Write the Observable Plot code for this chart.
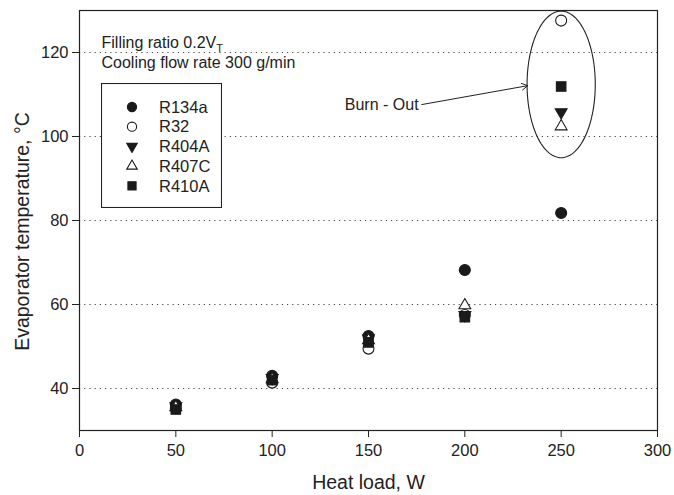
<!DOCTYPE html>
<html>
<head>
<meta charset="utf-8">
<script src="https://cdn.jsdelivr.net/npm/d3@7"></script>
<script src="https://cdn.jsdelivr.net/npm/@observablehq/plot@0.6"></script>
<style>
  html, body { margin: 0; padding: 0; background: #fff; }
  #wrap { position: relative; width: 674px; height: 495px; font-family: "Liberation Sans", Arial, sans-serif; color: #222; }
  #legend { position: absolute; left: 101px; top: 83px; }
</style>
</head>
<body>
<div id="wrap"></div>
<script>
// ---- data ----
const heatLoad = [50, 100, 150, 200, 250];
const seriesNames = ["R134a", "R32", "R404A", "R407C", "R410A"];
const R134a = [36.2, 43.0, 52.5, 68.2, 81.8];
const R32   = [35.3, 41.4, 49.5, 57.5, 127.6];
const R404A = [35.8, 42.5, 52.0, 57.5, 105.8];
const R407C = [35.5, 42.2, 51.5, 59.8, 102.4];
const R410A = [35.0, 42.0, 51.0, 57.0, 111.9];
const xTicks = [0, 50, 100, 150, 200, 250, 300];
const yTicks = [40, 60, 80, 100, 120];
const burnOutCenter = [250, 112.4];   // ellipse centre (W, °C)
const burnOutRadius = [17.7, 17.45];  // ellipse half-axes (W, °C)
const arrowFrom = [177.6, 107.6];
const arrowTo = [232.6, 112.1];
const burnOutLabel = "Burn - Out";
const note1 = "Filling ratio 0.2V";
const note1Sub = "T";
const note2 = "Cooling flow rate 300 g/min";

// ---- styles per series ----
const styles = {
  R134a: {symbol: "circle", fill: "#1a1a1a", stroke: "#1a1a1a", rotate: 0, r: 5.5, lr: 4.6},
  R32:   {symbol: "circle", fill: "white", stroke: "#1a1a1a", rotate: 0, r: 5.5, lr: 4.6},
  R404A: {symbol: "triangle", fill: "#1a1a1a", stroke: "#1a1a1a", rotate: 180, r: 4.4, lr: 3.9},
  R407C: {symbol: "triangle", fill: "white", stroke: "#1a1a1a", rotate: 0, r: 4.4, lr: 3.9},
  R410A: {symbol: "square", fill: "#1a1a1a", stroke: "#1a1a1a", rotate: 0, r: 5.4, lr: 4.6}
};
const values = {R134a, R32, R404A, R407C, R410A};
const rows = name => heatLoad.map((x, i) => ({x, y: values[name][i]}));

const ellipse = d3.range(0, 361, 3).map(a => ({
  x: burnOutCenter[0] + burnOutRadius[0] * Math.cos(a * Math.PI / 180),
  y: burnOutCenter[1] + burnOutRadius[1] * Math.sin(a * Math.PI / 180)
}));

const dotMarks = seriesNames.map(name => {
  const s = styles[name];
  return Plot.dot(rows(name), {
    x: "x", y: "y", r: s.r, symbol: s.symbol, fill: s.fill, stroke: s.stroke,
    strokeWidth: 1.1, rotate: s.rotate
  });
});

const chart = Plot.plot({
  width: 674,
  height: 495,
  marginLeft: 79,
  marginRight: 17,
  marginTop: 10,
  marginBottom: 65,
  style: {fontFamily: "'Liberation Sans', Arial, sans-serif", color: "#222", background: "white"},
  x: {domain: [0, 300]},
  y: {domain: [30, 130]},
  marks: [
    Plot.ruleY(yTicks, {stroke: "#444", strokeDasharray: "1.2,4", strokeWidth: 1}),
    Plot.frame({stroke: "#222", strokeWidth: 1.2}),
    Plot.axisX({ticks: xTicks, tickSize: 7, tickPadding: 7, fontSize: 16.5, label: null, stroke: "#222"}),
    Plot.axisY({ticks: yTicks, tickSize: 7, tickPadding: 4, fontSize: 16.5, label: null, stroke: "#222"}),
    Plot.line(ellipse, {x: "x", y: "y", stroke: "#222", strokeWidth: 1.1, curve: "linear"}),
    Plot.arrow([{x1: arrowFrom[0], y1: arrowFrom[1], x2: arrowTo[0], y2: arrowTo[1]}],
      {x1: "x1", y1: "y1", x2: "x2", y2: "y2", stroke: "#222", strokeWidth: 1, headLength: 10, bend: 0}),
    Plot.text([burnOutLabel], {x: () => arrowFrom[0] - 1.6, y: () => arrowFrom[1], text: d => d,
      textAnchor: "end", fontSize: 16, fill: "#222"}),
    Plot.text([note1], {frameAnchor: "top-left", dx: 22, dy: 32, text: d => d, textAnchor: "start",
      lineAnchor: "middle", fontSize: 16, fill: "#222", className: "note1"}),
    Plot.text([note2], {frameAnchor: "top-left", dx: 22, dy: 52, text: d => d, textAnchor: "start",
      lineAnchor: "middle", fontSize: 16, fill: "#222"}),
    Plot.text(["Evaporator temperature, °C"], {frameAnchor: "left", dx: -57, dy: 11, rotate: -90,
      textAnchor: "middle", lineAnchor: "middle", text: d => d, fontSize: 19.5, fill: "#222"}),
    Plot.text(["Heat load, W"], {frameAnchor: "bottom", dy: 52, textAnchor: "middle", lineAnchor: "middle",
      text: d => d, fontSize: 19.5, fill: "#222"}),
    ...dotMarks
  ]
});

document.getElementById("wrap").appendChild(chart);

// subscript T on the filling ratio note
d3.select(chart).selectAll("g.note1 text").each(function() {
  d3.select(this).append("tspan").attr("dy", "4").attr("font-size", "11px").text(note1Sub);
});

// ---- legend box ----
const lw = 121, lh = 125;
const leg = d3.select("#wrap").append("svg")
  .attr("id", "legend").attr("width", lw).attr("height", lh);
leg.append("rect").attr("x", 0.5).attr("y", 0.5).attr("width", lw - 1).attr("height", lh - 1)
  .attr("fill", "white").attr("stroke", "#222").attr("stroke-width", 1.1);
const symMap = {circle: d3.symbolCircle, triangle: d3.symbolTriangle, square: d3.symbolSquare};
seriesNames.forEach((name, i) => {
  const s = styles[name];
  const cy = 24 + i * 19.7;
  leg.append("path")
    .attr("d", d3.symbol(symMap[s.symbol], Math.PI * s.lr * s.lr)())
    .attr("transform", `translate(31,${cy}) rotate(${s.rotate})`)
    .attr("fill", s.fill).attr("stroke", s.stroke).attr("stroke-width", 1.1);
  leg.append("text").attr("x", 58).attr("y", cy).attr("dy", "0.35em")
    .attr("font-size", 16.5).attr("fill", "#222")
    .attr("font-family", "'Liberation Sans', Arial, sans-serif").text(name);
});
</script>
</body>
</html>
